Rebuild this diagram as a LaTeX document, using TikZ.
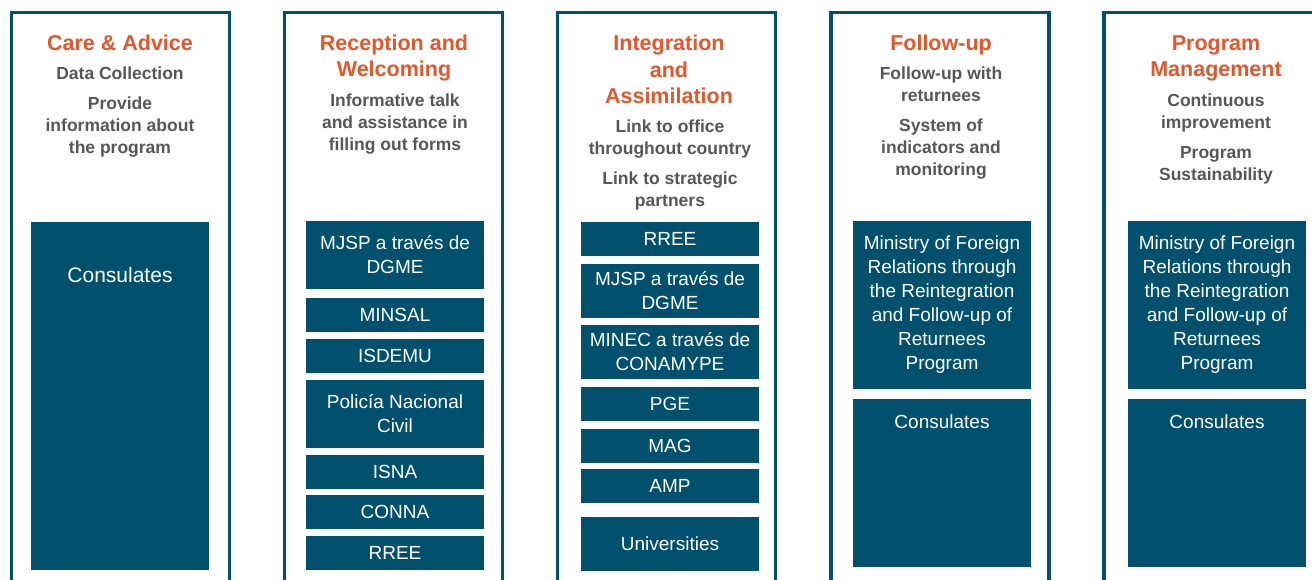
\documentclass[tikz,border=0pt]{standalone}
\usepackage{fontspec}
\setmainfont{Liberation Sans}
\definecolor{tealbox}{HTML}{00506E}
\definecolor{orangehd}{HTML}{E4572A}
\definecolor{graytx}{HTML}{575757}
\tikzset{
  colframe/.style={draw=tealbox, line width=3.5pt, line join=miter},
  heading/.style={text=orangehd, font=\fontsize{21.5}{26.5}\selectfont\bfseries, align=center, inner sep=0pt},
  subtx/.style={text=graytx, font=\fontsize{17.5}{22}\selectfont\bfseries, align=center, inner sep=0pt},
  orgbox/.style={fill=tealbox, draw=none, text=white, minimum width=178pt, align=center,
                 font=\fontsize{19}{24}\selectfont, inner sep=2pt},
  orgtext/.style={text=white, font=\fontsize{19}{24}\selectfont, align=center, inner sep=0pt},
}
\begin{document}
\begin{tikzpicture}[x=1pt,y=-1pt]
\useasboundingbox (0,0) rectangle (1312,580);
\clip (0,0) rectangle (1312,580);
\fill[white] (0,0) rectangle (1312,580);

% column frames
\draw[colframe] (11.5,12.5) rectangle (229.5,700);
\draw[colframe] (284.5,12.5) rectangle (502.5,700);
\draw[colframe] (557.5,12.5) rectangle (775.5,700);
\draw[colframe] (831,12.5) rectangle (1049,700);
\draw[colframe] (1104,12.5) rectangle (1322,700);

% column 1
\node[heading] (h1) at (120,43) {Care \& Advice};
\node[subtx] (s1a) at (120,73) {Data Collection};
\node[subtx] (s1b) at (120,127) {Provide\\information about\\the program};
\node[orgbox, minimum height=348pt] (b1a) at (120,396) {};
\node[orgtext, font=\fontsize{21}{26}\selectfont] (t1a) at (120,275) {Consulates};

% column 2
\node[heading] (h2) at (394,58) {Reception and\\Welcoming};
\node[subtx] (s2a) at (395,124) {Informative talk\\and assistance in\\filling out forms};
\node[orgbox, minimum height=68pt] (b2a) at (395,255) {MJSP a través de\\DGME};
\node[orgbox, minimum height=34pt] (b2b) at (395,315) {MINSAL};
\node[orgbox, minimum height=34pt] (b2c) at (395,356) {ISDEMU};
\node[orgbox, minimum height=68pt] (b2d) at (395,414) {Policía Nacional\\Civil};
\node[orgbox, minimum height=34pt] (b2e) at (395,472) {ISNA};
\node[orgbox, minimum height=34pt] (b2f) at (395,512) {CONNA};
\node[orgbox, minimum height=34pt] (b2g) at (395,553) {RREE};

% column 3
\node[heading] (h3) at (669,69.5) {Integration\\and\\Assimilation};
\node[subtx] (s3a) at (670,139.5) {Link to office\\throughout country};
\node[subtx] (s3b) at (670,191) {Link to strategic\\partners};
\node[orgbox, minimum height=34pt] (b3a) at (670,239) {RREE};
\node[orgbox, minimum height=54pt] (b3b) at (670,291) {MJSP a través de\\DGME};
\node[orgbox, minimum height=54pt] (b3c) at (670,352) {MINEC a través de\\CONAMYPE};
\node[orgbox, minimum height=34pt] (b3d) at (670,404) {PGE};
\node[orgbox, minimum height=34pt] (b3e) at (670,446) {MAG};
\node[orgbox, minimum height=34pt] (b3f) at (670,486) {AMP};
\node[orgbox, minimum height=54pt] (b3g) at (670,544) {Universities};

% column 4
\node[heading] (h4) at (941,45) {Follow-up};
\node[subtx] (s4a) at (941,84) {Follow-up with\\returnees};
\node[subtx] (s4b) at (941,149) {System of\\indicators and\\monitoring};
\node[orgbox, minimum height=168pt] (b4a) at (942,305) {Ministry of Foreign\\Relations through\\the Reintegration\\and Follow-up of\\Returnees\\Program};
\node[orgbox, minimum height=168pt] (b4b) at (942,483) {};
\node[orgtext] (t4b) at (942,422) {Consulates};

% column 5
\node[heading] (h5) at (1216,58.5) {Program\\Management};
\node[subtx] (s5a) at (1216,113) {Continuous\\improvement};
\node[subtx] (s5b) at (1216,165) {Program\\Sustainability};
\node[orgbox, minimum height=168pt] (b5a) at (1217,305) {Ministry of Foreign\\Relations through\\the Reintegration\\and Follow-up of\\Returnees\\Program};
\node[orgbox, minimum height=168pt] (b5b) at (1217,483) {};
\node[orgtext] (t5b) at (1217,422) {Consulates};
\end{tikzpicture}
\end{document}
